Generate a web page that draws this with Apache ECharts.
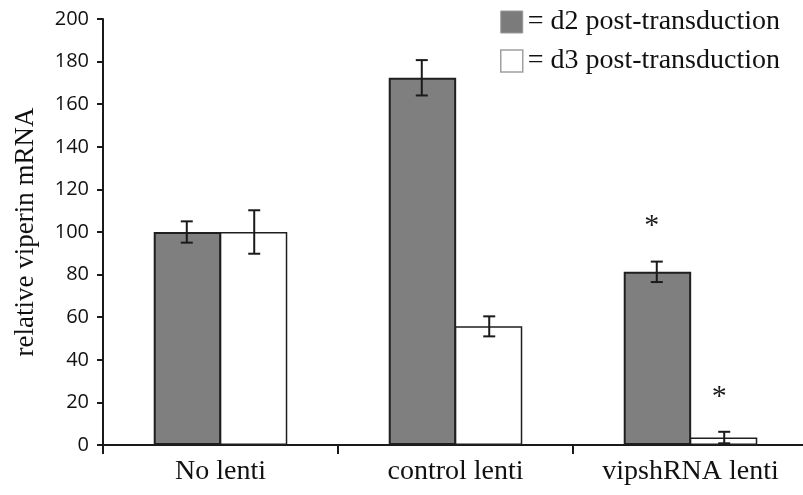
<!DOCTYPE html>
<html>
<head>
<meta charset="utf-8">
<script src="https://cdn.jsdelivr.net/npm/echarts@6/dist/echarts.min.js"></script>
<style>
  html, body { margin: 0; padding: 0; background: #fff; }
  #main { width: 803px; height: 495px; }
</style>
</head>
<body>
<div id="main"></div>
<script>
var categories = ["No lenti", "control lenti", "vipshRNA lenti"];
var seriesNames = ["d2 post-transduction", "d3 post-transduction"];
var d2Values = [100, 172.4, 81.3];
var d3Values = [100, 55.7, 3.5];
var d2Err = [5, 8.3, 4.8];
var d3Err = [10.2, 4.7, 2.7];
var d2Sig = [false, false, true];
var d3Sig = [false, false, true];
var yTicks = { min: 0, max: 200, interval: 20 };

var BAR_FRAC = 0.287;

function errData(vals, errs, sig) {
  return vals.map(function (v, i) { return [i, v, errs[i], sig[i] ? 1 : 0]; });
}

function makeErrRender(side) {
  return function (params, api) {
    var x = api.value(0);
    var v = api.value(1);
    var e = api.value(2);
    var star = api.value(3);
    var band = api.size([1, 0])[0];
    var bw = band * BAR_FRAC;
    var c = api.coord([x, v]);
    var cx = c[0] + side * bw / 2;
    var top = api.coord([x, v + e])[1];
    var bot = api.coord([x, v - e])[1];
    var cap = 6;
    var st = { stroke: "#1a1a1a", lineWidth: 2 };
    var children = [
      { type: "line", shape: { x1: cx, y1: top, x2: cx, y2: bot }, style: st },
      { type: "line", shape: { x1: cx - cap, y1: top, x2: cx + cap, y2: top }, style: st },
      { type: "line", shape: { x1: cx - cap, y1: bot, x2: cx + cap, y2: bot }, style: st }
    ];
    if (star) {
      children.push({
        type: "text",
        style: {
          text: "*", x: cx - 5, y: top - 35,
          fill: "#1a1a1a", font: "30px 'Liberation Serif'",
          align: "center", verticalAlign: "middle"
        }
      });
    }
    return { type: "group", children: children };
  };
}

var chart = echarts.init(document.getElementById("main"));
chart.setOption({
  animation: false,
  grid: { left: 103, right: -5, top: 19, bottom: 50, outerBoundsMode: "none", containLabel: false },
  legend: {
    orient: "vertical",
    left: 500,
    top: 8,
    padding: 0,
    itemWidth: 22,
    itemHeight: 22,
    itemGap: 11,
    icon: "rect",
    formatter: function (n) { return "= " + n; },
    textStyle: { fontFamily: "Liberation Serif", fontSize: 28, color: "#111" },
    data: [
      { name: seriesNames[0], itemStyle: { color: "#7b7b7b", borderColor: "#9a9a9a", borderWidth: 1 } },
      { name: seriesNames[1], itemStyle: { color: "#fff", borderColor: "#a0a0a0", borderWidth: 1.5 } }
    ]
  },
  xAxis: {
    type: "category",
    data: categories,
    axisLine: { lineStyle: { color: "#1a1a1a", width: 2 } },
    axisTick: { show: true, length: 9, lineStyle: { color: "#1a1a1a", width: 2 } },
    axisLabel: { fontFamily: "Liberation Serif", fontSize: 28, color: "#111", margin: 13 }
  },
  yAxis: {
    type: "value",
    min: yTicks.min,
    max: yTicks.max,
    interval: yTicks.interval,
    name: "relative viperin mRNA",
    nameLocation: "middle",
    nameGap: 64,
    nameTextStyle: { fontFamily: "Liberation Serif", fontSize: 27, color: "#111" },
    splitLine: { show: false },
    axisLine: { show: true, lineStyle: { color: "#1a1a1a", width: 2 } },
    axisTick: { show: true, length: 6, lineStyle: { color: "#1a1a1a", width: 2 } },
    axisLabel: { fontFamily: "Open Sans", fontSize: 20, color: "#111", margin: 14 }
  },
  series: [
    {
      name: seriesNames[0],
      type: "bar",
      data: d2Values,
      barWidth: (BAR_FRAC * 100) + "%",
      barGap: "-2%",
      itemStyle: { color: "#7f7f7f", borderColor: "#1f1f1f", borderWidth: 2 }
    },
    {
      name: seriesNames[1],
      type: "bar",
      data: d3Values,
      barWidth: (BAR_FRAC * 100) + "%",
      barGap: "-2%",
      itemStyle: { color: "#ffffff", borderColor: "#1f1f1f", borderWidth: 1.5 }
    },
    {
      type: "custom",
      renderItem: makeErrRender(-1),
      data: errData(d2Values, d2Err, d2Sig),
      encode: { x: 0, y: 1 },
      z: 5
    },
    {
      type: "custom",
      renderItem: makeErrRender(1),
      data: errData(d3Values, d3Err, d3Sig),
      encode: { x: 0, y: 1 },
      z: 5
    }
  ]
});
</script>
</body>
</html>
